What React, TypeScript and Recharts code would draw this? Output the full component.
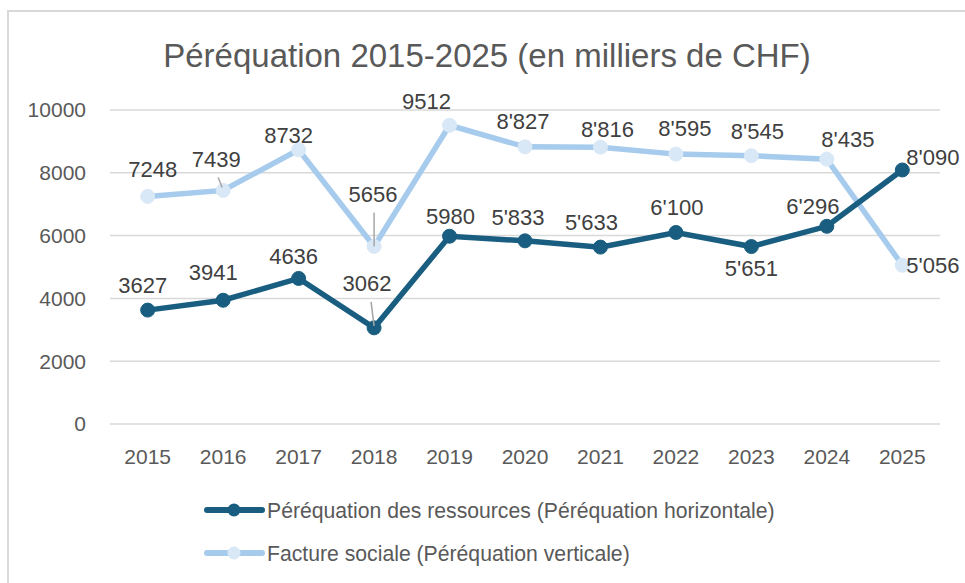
import React from 'react';
import { LineChart, Line, XAxis, YAxis, CartesianGrid } from 'recharts';

const years = ['2015', '2016', '2017', '2018', '2019', '2020', '2021', '2022', '2023', '2024', '2025'];
const ressources = [3627, 3941, 4636, 3062, 5980, 5833, 5633, 6100, 5651, 6296, 8090];
const factureSociale = [7248, 7439, 8732, 5656, 9512, 8827, 8816, 8595, 8545, 8435, 5056];
const yTicks = [0, 2000, 4000, 6000, 8000, 10000];

const TITLE = 'Péréquation 2015-2025 (en milliers de CHF)';
const NAME_RES = 'Péréquation des ressources (Péréquation horizontale)';
const NAME_FAC = 'Facture sociale (Péréquation verticale)';

const DARK = '#195e80';
const LIGHT = '#a6cbec';
const LIGHT_MARK = '#d9e8f6';
const TEXT = '#595959';
const LABEL = '#404040';
const FONT = '"Liberation Sans", Arial, sans-serif';

// label placement (dx, dy from point; anchor; leader line)
type Place = { dx: number; dy: number; anchor?: 'start' | 'middle'; leader?: [number, number, number, number] };
const resPlace: Place[] = [
  { dx: -5, dy: -25 },
  { dx: -10, dy: -28 },
  { dx: -5, dy: -22 },
  { dx: -7, dy: -44, leader: [-3, -26, 0, -2] },
  { dx: 1, dy: -20 },
  { dx: -7, dy: -23 },
  { dx: -9, dy: -25 },
  { dx: 1, dy: -25 },
  { dx: 0, dy: 22 },
  { dx: -14, dy: -20 },
  { dx: 4, dy: -12, anchor: 'start' },
];
const facPlace: Place[] = [
  { dx: 5, dy: -27 },
  { dx: -7, dy: -31, leader: [-5, -13, -1, -3] },
  { dx: -10, dy: -14 },
  { dx: -1, dy: -52, leader: [0, -34, 0, 0] },
  { dx: -23, dy: -24 },
  { dx: -2, dy: -25 },
  { dx: 7, dy: -18 },
  { dx: 9, dy: -26 },
  { dx: 6, dy: -24 },
  { dx: 21, dy: -20 },
  { dx: 4, dy: 0, anchor: 'start' },
];

const data = years.map((y, i) => ({ year: y, res: ressources[i], fac: factureSociale[i] }));

const fmt = (v: number, i: number) =>
  i < 5 ? String(v) : String(v).replace(/\B(?=(\d{3})+(?!\d))/g, "'");

const makeLabel = (places: Place[]) => (props: any) => {
  const { x, y, index, value } = props;
  const p = places[index];
  return (
    <g>
      {p.leader && (
        <line
          x1={x + p.leader[0]}
          y1={y + p.leader[1]}
          x2={x + p.leader[2]}
          y2={y + p.leader[3]}
          stroke="#a6a6a6"
          strokeWidth={1.5}
        />
      )}
      <text
        x={x + p.dx}
        y={y + p.dy}
        textAnchor={p.anchor || 'middle'}
        dominantBaseline="central"
        fontSize={22}
        fontFamily={FONT}
        fill={LABEL}
      >
        {fmt(value, index)}
      </text>
    </g>
  );
};

const LegendRow = ({ y, color, mark, text }: { y: number; color: string; mark: string; text: string }) => (
  <g>
    <line x1={207} y1={y} x2={262} y2={y} stroke={color} strokeWidth={6} strokeLinecap="round" />
    <circle cx={234} cy={y} r={6.5} fill={mark} />
    <text x={267} y={y} dominantBaseline="central" fontSize={21.2} fontFamily={FONT} fill={TEXT}>
      {text}
    </text>
  </g>
);

export default function App() {
  return (
    <div style={{ position: 'absolute', left: 0, top: 0, width: 965, height: 583, background: '#fff', overflow: 'hidden' }}>
      <div
        style={{
          position: 'absolute',
          left: 7,
          top: 10,
          width: 1000,
          height: 600,
          borderLeft: '2.5px solid #d9d9d9',
          borderTop: '2.5px solid #d9d9d9',
        }}
      />
      <svg width={965} height={583} style={{ position: 'absolute', left: 0, top: 0 }}>
        <text x={487} y={55} textAnchor="middle" dominantBaseline="central" fontSize={33} fontFamily={FONT} fill={TEXT}>
          {TITLE}
        </text>
        <LegendRow y={510} color={DARK} mark={DARK} text={NAME_RES} />
        <LegendRow y={553} color={LIGHT} mark={LIGHT_MARK} text={NAME_FAC} />
      </svg>
      <div style={{ position: 'absolute', left: 0, top: 0 }}>
        <LineChart width={965} height={583} data={data} margin={{ top: 110, right: 25, bottom: 129, left: 0 }}>
          <CartesianGrid vertical={false} stroke="#d9d9d9" strokeWidth={1.5} />
          <XAxis
            dataKey="year"
            axisLine={false}
            tickLine={false}
            tickSize={0}
            tickMargin={25}
            padding={{ left: 37.7, right: 37.7 }}
            tick={{ fontSize: 21, fontFamily: FONT, fill: TEXT }}
          />
          <YAxis
            width={110}
            domain={[0, 10000]}
            ticks={yTicks}
            axisLine={false}
            tickLine={false}
            tickSize={0}
            tickMargin={24}
            tick={{ fontSize: 21, fontFamily: FONT, fill: TEXT }}
          />
          <Line
            dataKey="fac"
            stroke={LIGHT}
            strokeWidth={5.5}
            dot={{ r: 7, fill: LIGHT_MARK, stroke: LIGHT_MARK, strokeWidth: 1 }}
            activeDot={false}
            isAnimationActive={false}
            label={makeLabel(facPlace)}
          />
          <Line
            dataKey="res"
            stroke={DARK}
            strokeWidth={5.5}
            dot={{ r: 7, fill: DARK, stroke: DARK, strokeWidth: 1 }}
            activeDot={false}
            isAnimationActive={false}
            label={makeLabel(resPlace)}
          />
        </LineChart>
      </div>
    </div>
  );
}
